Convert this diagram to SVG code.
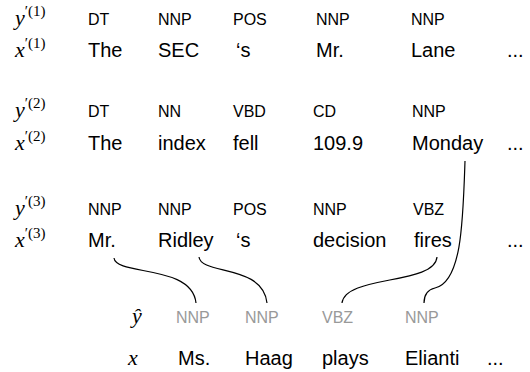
<svg xmlns="http://www.w3.org/2000/svg" width="530" height="372" viewBox="0 0 530 372">
<style>
.tag{font-family:"Liberation Sans",Arial,sans-serif;font-size:16px;fill:#000}
.gtag{font-family:"Liberation Sans",Arial,sans-serif;font-size:16px;fill:#999}
.w{font-family:"Liberation Sans",Arial,sans-serif;font-size:20px;fill:#000}
.m{font-family:"Liberation Serif","Times New Roman",serif;font-size:22px;font-style:italic;fill:#000}
.sup{font-family:"Liberation Serif","Times New Roman",serif;font-size:15px;font-style:normal}
.c{fill:none;stroke:#000;stroke-width:1.2}
</style>
<rect width="530" height="372" fill="#fff"/>
<g id="row1">
<text class="m" x="15" y="25">y<tspan class="sup" dy="-9">′(1)</tspan></text>
<text class="m" x="15" y="57">x<tspan class="sup" dy="-9">′(1)</tspan></text>
<text class="tag" x="88" y="25">DT</text>
<text class="tag" x="158" y="25">NNP</text>
<text class="tag" x="233" y="25">POS</text>
<text class="tag" x="316" y="25">NNP</text>
<text class="tag" x="411" y="25">NNP</text>
<text class="w" x="88" y="57">The</text>
<text class="w" x="158" y="57">SEC</text>
<text class="w" x="236" y="57">‘s</text>
<text class="w" x="316" y="57">Mr.</text>
<text class="w" x="411" y="57">Lane</text>
<text class="w" x="507" y="57">...</text>
</g>
<g id="row2">
<text class="m" x="15" y="117">y<tspan class="sup" dy="-9">′(2)</tspan></text>
<text class="m" x="15" y="150">x<tspan class="sup" dy="-9">′(2)</tspan></text>
<text class="tag" x="88" y="117">DT</text>
<text class="tag" x="158" y="117">NN</text>
<text class="tag" x="233" y="117">VBD</text>
<text class="tag" x="313" y="117">CD</text>
<text class="tag" x="412" y="117">NNP</text>
<text class="w" x="88" y="150">The</text>
<text class="w" x="158" y="150">index</text>
<text class="w" x="233" y="150">fell</text>
<text class="w" x="313" y="150">109.9</text>
<text class="w" x="412" y="150">Monday</text>
<text class="w" x="507" y="150">...</text>
</g>
<g id="row3">
<text class="m" x="15" y="215">y<tspan class="sup" dy="-9">′(3)</tspan></text>
<text class="m" x="15" y="247">x<tspan class="sup" dy="-9">′(3)</tspan></text>
<text class="tag" x="88" y="215">NNP</text>
<text class="tag" x="158" y="215">NNP</text>
<text class="tag" x="233" y="215">POS</text>
<text class="tag" x="313" y="215">NNP</text>
<text class="tag" x="413" y="215">VBZ</text>
<text class="w" x="88" y="247">Mr.</text>
<text class="w" x="158" y="247">Ridley</text>
<text class="w" x="236" y="247">‘s</text>
<text class="w" x="313" y="247">decision</text>
<text class="w" x="414" y="247">fires</text>
<text class="w" x="507" y="247">...</text>
</g>
<g id="pred">
<text class="m" x="132" y="323">ŷ</text>
<text class="gtag" x="176" y="323">NNP</text>
<text class="gtag" x="245" y="323">NNP</text>
<text class="gtag" x="322" y="323">VBZ</text>
<text class="gtag" x="405" y="323">NNP</text>
</g>
<g id="input">
<text class="m" x="128" y="365">x</text>
<text class="w" x="178" y="365">Ms.</text>
<text class="w" x="245" y="365">Haag</text>
<text class="w" x="322" y="365">plays</text>
<text class="w" x="405" y="365">Elianti</text>
<text class="w" x="487" y="365">...</text>
</g>
<g id="connectors">
<path class="c" d="M114,258 C116,276 192,264 196,303"/>
<path class="c" d="M199,257 C201,275 263,264 267,303"/>
<path class="c" d="M437,257 C435,285 345,275 342,303"/>
<path class="c" d="M465,161 C463,220 462,282 435,288 C426,290 424,296 424,303"/>
</g>
</svg>
